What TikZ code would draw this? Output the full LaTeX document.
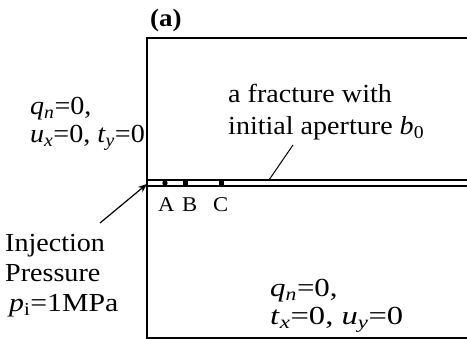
\documentclass[tikz,border=0pt]{standalone}
\usepackage{fontspec}
\setmainfont[FakeStretch=1.08]{Liberation Serif}
\usetikzlibrary{arrows.meta}
\newcommand{\sbi}[1]{\textsubscript{\itshape #1}}
\newcommand{\sbr}[1]{\textsubscript{#1}}
\begin{document}
\begin{tikzpicture}[x=1pt,y=-1pt,
  txt/.style={font=\fontsize{26}{28}\selectfont, inner sep=0pt, anchor=base west},
  lbl/.style={font=\fontsize{21}{24}\selectfont, inner sep=0pt, anchor=base west},
  edge/.style={line width=1.5pt, black}]
\useasboundingbox (0,0) rectangle (467,339);
% box
\coordinate (tr) at (467,38);
\coordinate (tl) at (147,38);
\coordinate (bl) at (147,338);
\coordinate (br) at (467,338);
\draw[edge] (tr) -- (tl) -- (bl) -- (br);
% fracture
\coordinate (f1l) at (147,180);
\coordinate (f1r) at (467,180);
\coordinate (f2l) at (147,186);
\coordinate (f2r) at (467,186);
\draw[edge] (f1l) -- (f1r);
\draw[edge] (f2l) -- (f2r);
% points
\fill (165,183) circle (2.7);
\fill (182.5,180.5) rectangle (187.5,185.5);
\fill (218.5,180.5) rectangle (223.5,185.5);
\node[lbl] (lA) at (158,212) {A};
\node[lbl] (lB) at (182,212) {B};
\node[lbl] (lC) at (213,212) {C};
% title
\node[font=\bfseries\fontsize{25}{27}\selectfont, inner sep=0pt, anchor=base west] (ttl) at (150,27) {(a)};
% left boundary condition
\node[txt] (lq) at (30,115) {\textit{q}\sbi{n}=0,};
\node[txt] (lu) at (30,143) {\textit{u}\sbi{x}=0, \textit{t}\sbi{y}=0};
% fracture label
\node[txt] (fr1) at (228,103) {a fracture with};
\node[txt] (fr2) at (228,135) {initial aperture \textit{b}\sbr{0}};
\coordinate (ld1) at (293,145);
\coordinate (ld2) at (269,180);
\draw[line width=1pt] (ld1) -- (ld2);
% injection
\node[txt] (in1) at (5,252) {Injection};
\node[txt] (in2) at (5,282) {Pressure};
\node[txt] (in3) at (9,312) {\scalebox{1.06}[1]{\textit{p}\sbr{i}=1MPa}};
\coordinate (atail) at (100,223);
\coordinate (ahead) at (147,184);
\draw[line width=1.2pt, -{Stealth[length=9pt,width=7pt]}] (atail) -- (ahead);
% bottom boundary condition
\node[txt] (bq) at (270,297) {\scalebox{1.1}[1]{\textit{q}\sbi{n}=0,}};
\node[txt] (bt) at (270,325) {\scalebox{1.16}[1]{\textit{t}\sbi{x}=0, \textit{u}\sbi{y}=0}};
\end{tikzpicture}
\end{document}
